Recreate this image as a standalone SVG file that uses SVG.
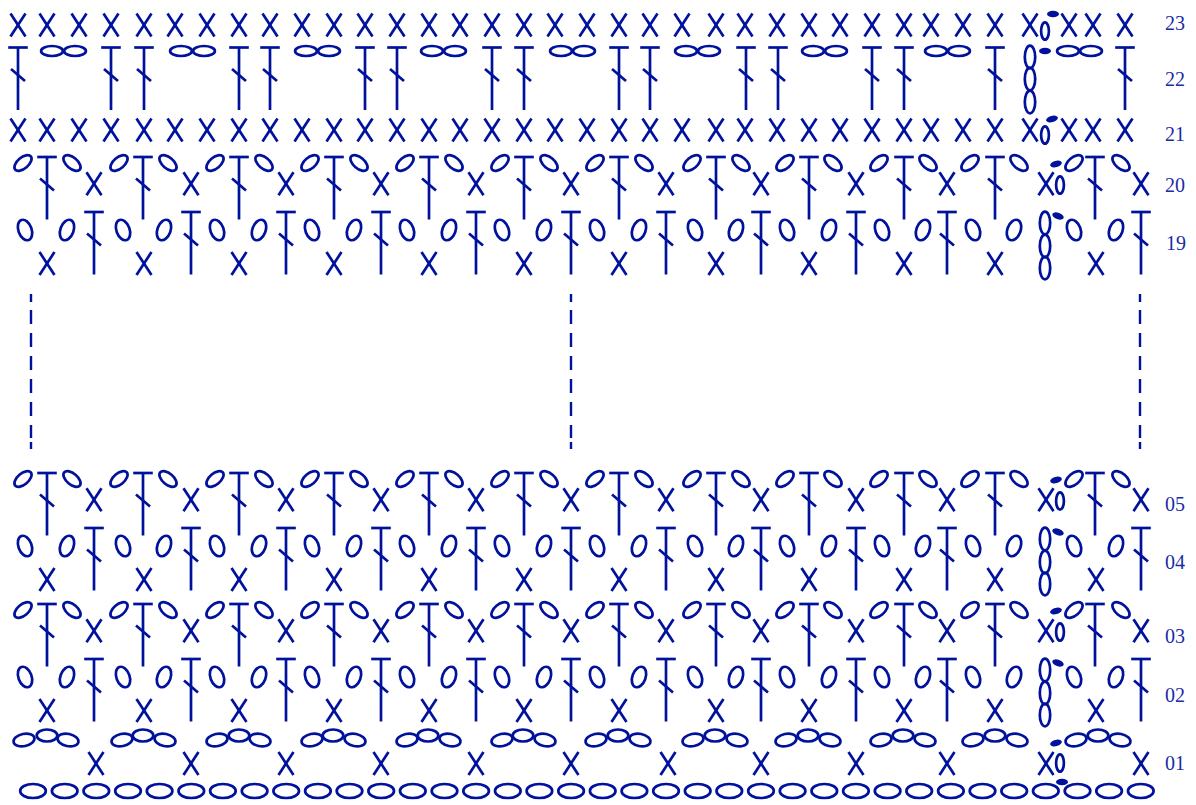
<svg xmlns="http://www.w3.org/2000/svg" width="1196" height="805" viewBox="0 0 1196 805">
<style>
.s line,.s ellipse{fill:none;stroke:#00129c;stroke-width:2.7}
.d{fill:#00129c;stroke:none}
.dash{fill:none;stroke:#00129c;stroke-width:2.4;stroke-dasharray:8 8 14 9 14 9 14 9 14 9 14 9 13 4 7 100}
text{font-family:"Liberation Serif","Times New Roman",serif;font-size:20px;fill:#1a2ba6}
</style>
<defs>
<g id="X" class="s"><line x1="-7.5" y1="-11.5" x2="7.5" y2="11.5"/><line x1="7.5" y1="-11.5" x2="-7.5" y2="11.5"/></g>
<g id="T" class="s"><line x1="-9.8" y1="0" x2="9.8" y2="0"/><line x1="0" y1="0" x2="0" y2="62.5"/><line x1="-7" y1="21.5" x2="7" y2="33.5"/></g>
<g id="O" class="s"><ellipse rx="3.9" ry="8.7"/></g>
<g id="H" class="s"><ellipse rx="10.9" ry="5"/></g>
<g id="V" class="s"><ellipse rx="5.2" ry="11.3"/></g>
<g id="LA" class="s"><ellipse rx="10.2" ry="5.5" transform="rotate(-40)"/></g>
<g id="LB" class="s"><ellipse rx="10.2" ry="5.5" transform="rotate(40)"/></g>
<g id="VA" class="s"><ellipse rx="6.6" ry="10.6" transform="rotate(20)"/></g>
<g id="VB" class="s"><ellipse rx="6.6" ry="10.6" transform="rotate(-20)"/></g>
<g id="CA" class="s"><ellipse rx="10.6" ry="6.1" transform="rotate(-12)"/></g>
<g id="CB" class="s"><ellipse rx="10.3" ry="6"/></g>
<g id="CC" class="s"><ellipse rx="10.6" ry="6.1" transform="rotate(12)"/></g>
<g id="F" class="s"><ellipse rx="12.8" ry="7"/></g>
<ellipse id="dot" class="d" rx="6" ry="3.2"/>
<g id="xrow">
<use href="#X" x="18"/><use href="#X" x="47"/><use href="#X" x="79"/><use href="#X" x="111"/><use href="#X" x="144"/><use href="#X" x="175"/><use href="#X" x="207"/><use href="#X" x="239"/><use href="#X" x="270"/><use href="#X" x="302"/><use href="#X" x="334"/><use href="#X" x="365"/><use href="#X" x="397"/><use href="#X" x="429"/><use href="#X" x="460"/><use href="#X" x="492"/><use href="#X" x="524"/><use href="#X" x="555"/><use href="#X" x="587"/><use href="#X" x="619"/><use href="#X" x="650"/><use href="#X" x="682"/><use href="#X" x="716"/><use href="#X" x="745"/><use href="#X" x="777"/><use href="#X" x="809"/><use href="#X" x="840"/><use href="#X" x="872"/><use href="#X" x="904"/><use href="#X" x="931"/><use href="#X" x="963"/><use href="#X" x="995"/><use href="#X" x="1030"/><use href="#X" x="1069"/><use href="#X" x="1093"/><use href="#X" x="1125"/>
</g>
<g id="rowA">
<use href="#T" x="47" y="157"/><use href="#T" x="143" y="157"/><use href="#T" x="239" y="157"/><use href="#T" x="334" y="157"/><use href="#T" x="429" y="157"/><use href="#T" x="524" y="157"/><use href="#T" x="619" y="157"/><use href="#T" x="716" y="157"/><use href="#T" x="809" y="157"/><use href="#T" x="904" y="157"/><use href="#T" x="995" y="157"/><use href="#T" x="1095" y="157"/>
<use href="#X" x="94" y="183.7"/><use href="#X" x="191" y="183.7"/><use href="#X" x="286" y="183.7"/><use href="#X" x="381" y="183.7"/><use href="#X" x="476" y="183.7"/><use href="#X" x="571" y="183.7"/><use href="#X" x="666" y="183.7"/><use href="#X" x="761" y="183.7"/><use href="#X" x="856" y="183.7"/><use href="#X" x="947" y="183.7"/><use href="#X" x="1046" y="183.7"/><use href="#X" x="1141" y="183.7"/>
<use href="#LA" x="23" y="163"/><use href="#LB" x="72" y="163"/><use href="#LA" x="119" y="163"/><use href="#LB" x="168" y="163"/><use href="#LA" x="215" y="163"/><use href="#LB" x="264" y="163"/><use href="#LA" x="310" y="163"/><use href="#LB" x="359" y="163"/><use href="#LA" x="405" y="163"/><use href="#LB" x="454" y="163"/><use href="#LA" x="500" y="163"/><use href="#LB" x="549" y="163"/><use href="#LA" x="595" y="163"/><use href="#LB" x="644" y="163"/><use href="#LA" x="692" y="163"/><use href="#LB" x="741" y="163"/><use href="#LA" x="785" y="163"/><use href="#LB" x="833" y="163"/><use href="#LA" x="879" y="163"/><use href="#LB" x="928" y="163"/><use href="#LA" x="970" y="163"/><use href="#LB" x="1019" y="163"/><use href="#LA" x="1074" y="163"/><use href="#LB" x="1121" y="163"/>
<ellipse class="d" rx="6" ry="3.2" transform="translate(1056 164) rotate(-15)"/>
<use href="#O" x="1060" y="185"/>
</g>
<g id="rowB">
<use href="#T" x="94" y="212"/><use href="#T" x="191" y="212"/><use href="#T" x="286" y="212"/><use href="#T" x="381" y="212"/><use href="#T" x="476" y="212"/><use href="#T" x="571" y="212"/><use href="#T" x="666" y="212"/><use href="#T" x="761" y="212"/><use href="#T" x="856" y="212"/><use href="#T" x="947" y="212"/><use href="#T" x="1141" y="212"/>
<use href="#X" x="47" y="263.5"/><use href="#X" x="144" y="263.5"/><use href="#X" x="239" y="263.5"/><use href="#X" x="334" y="263.5"/><use href="#X" x="429" y="263.5"/><use href="#X" x="524" y="263.5"/><use href="#X" x="619" y="263.5"/><use href="#X" x="716" y="263.5"/><use href="#X" x="809" y="263.5"/><use href="#X" x="904" y="263.5"/><use href="#X" x="995" y="263.5"/><use href="#X" x="1096" y="263.5"/>
<use href="#VB" x="25" y="230"/><use href="#VA" x="67" y="230"/><use href="#VB" x="123" y="230"/><use href="#VA" x="164" y="230"/><use href="#VB" x="217" y="230"/><use href="#VA" x="259" y="230"/><use href="#VB" x="312" y="230"/><use href="#VA" x="354" y="230"/><use href="#VB" x="407" y="230"/><use href="#VA" x="449" y="230"/><use href="#VB" x="502" y="230"/><use href="#VA" x="544" y="230"/><use href="#VB" x="597" y="230"/><use href="#VA" x="639" y="230"/><use href="#VB" x="695" y="230"/><use href="#VA" x="736" y="230"/><use href="#VB" x="787" y="230"/><use href="#VA" x="829" y="230"/><use href="#VB" x="882" y="230"/><use href="#VA" x="923" y="230"/><use href="#VB" x="973" y="230"/><use href="#VA" x="1014" y="230"/><use href="#VB" x="1074" y="230"/><use href="#VA" x="1116" y="230"/>
<use href="#V" x="1045" y="223"/><use href="#V" x="1045" y="246"/><use href="#V" x="1045" y="268"/>
<ellipse class="d" rx="6" ry="3.2" transform="translate(1058 216) rotate(20)"/>
</g>
</defs>

<g id="row-23">
<use href="#xrow" y="25"/>
<use href="#O" x="1045" y="31"/>
<use href="#dot" x="1053" y="14"/>
</g>
<g id="row-22">
<use href="#T" x="18" y="47.5"/><use href="#T" x="111" y="47.5"/><use href="#T" x="144" y="47.5"/><use href="#T" x="239" y="47.5"/><use href="#T" x="270" y="47.5"/><use href="#T" x="365" y="47.5"/><use href="#T" x="397" y="47.5"/><use href="#T" x="492" y="47.5"/><use href="#T" x="524" y="47.5"/><use href="#T" x="619" y="47.5"/><use href="#T" x="650" y="47.5"/><use href="#T" x="746" y="47.5"/><use href="#T" x="778" y="47.5"/><use href="#T" x="872" y="47.5"/><use href="#T" x="904" y="47.5"/><use href="#T" x="995" y="47.5"/><use href="#T" x="1125" y="47.5"/>
<use href="#H" x="52" y="51"/><use href="#H" x="75" y="51"/><use href="#H" x="181" y="51"/><use href="#H" x="204" y="51"/><use href="#H" x="306" y="51"/><use href="#H" x="329" y="51"/><use href="#H" x="432" y="51"/><use href="#H" x="455" y="51"/><use href="#H" x="561" y="51"/><use href="#H" x="584" y="51"/><use href="#H" x="686" y="51"/><use href="#H" x="709" y="51"/><use href="#H" x="813" y="51"/><use href="#H" x="836" y="51"/><use href="#H" x="936" y="51"/><use href="#H" x="959" y="51"/><use href="#H" x="1068" y="51"/><use href="#H" x="1091" y="51"/>
<use href="#V" x="1030" y="57"/><use href="#V" x="1030" y="79"/><use href="#V" x="1030" y="102"/>
<use href="#dot" x="1045" y="51"/>
</g>
<g id="row-21">
<use href="#xrow" y="130"/>
<use href="#O" x="1045" y="135"/>
<ellipse class="d" rx="6" ry="3.2" transform="translate(1052 119) rotate(-15)"/>
</g>
<g id="row-20"><use href="#rowA"/></g>
<g id="row-19"><use href="#rowB"/></g>

<g id="connectors">
<line class="dash" x1="31" y1="294" x2="31" y2="449"/>
<line class="dash" x1="571" y1="294" x2="571" y2="449"/>
<line class="dash" x1="1140" y1="294" x2="1140" y2="449"/>
</g>

<g id="row-05"><use href="#rowA" y="316"/></g>
<g id="row-04"><use href="#rowB" y="316"/></g>
<g id="row-03"><use href="#rowA" y="447"/></g>
<g id="row-02"><use href="#rowB" y="447"/></g>

<g id="row-01">
<use href="#X" x="96" y="763.5"/><use href="#X" x="191" y="763.5"/><use href="#X" x="286" y="763.5"/><use href="#X" x="381" y="763.5"/><use href="#X" x="476" y="763.5"/><use href="#X" x="571" y="763.5"/><use href="#X" x="668" y="763.5"/><use href="#X" x="761" y="763.5"/><use href="#X" x="856" y="763.5"/><use href="#X" x="947" y="763.5"/><use href="#X" x="1046" y="763.5"/><use href="#X" x="1141" y="763.5"/>
<use href="#CA" x="24" y="740"/><use href="#CB" x="47" y="735.5"/><use href="#CC" x="68" y="740"/>
<use href="#CA" x="122" y="740"/><use href="#CB" x="143" y="735.5"/><use href="#CC" x="165" y="740"/>
<use href="#CA" x="217" y="740"/><use href="#CB" x="239" y="735.5"/><use href="#CC" x="260" y="740"/>
<use href="#CA" x="312" y="740"/><use href="#CB" x="333" y="735.5"/><use href="#CC" x="355" y="740"/>
<use href="#CA" x="407" y="740"/><use href="#CB" x="428" y="735.5"/><use href="#CC" x="450" y="740"/>
<use href="#CA" x="502" y="740"/><use href="#CB" x="523" y="735.5"/><use href="#CC" x="545" y="740"/>
<use href="#CA" x="596" y="740"/><use href="#CB" x="618" y="735.5"/><use href="#CC" x="640" y="740"/>
<use href="#CA" x="693" y="740"/><use href="#CB" x="715" y="735.5"/><use href="#CC" x="737" y="740"/>
<use href="#CA" x="786" y="740"/><use href="#CB" x="808" y="735.5"/><use href="#CC" x="830" y="740"/>
<use href="#CA" x="881" y="740"/><use href="#CB" x="903" y="735.5"/><use href="#CC" x="925" y="740"/>
<use href="#CA" x="973" y="740"/><use href="#CB" x="995" y="735.5"/><use href="#CC" x="1017" y="740"/>
<use href="#CA" x="1076" y="740"/><use href="#CB" x="1098" y="735.5"/><use href="#CC" x="1120" y="740"/>
<ellipse class="d" rx="6" ry="3.2" transform="translate(1056 743) rotate(-15)"/>
<use href="#O" x="1060" y="763"/>
</g>
<g id="row-foundation">
<use href="#F" x="33" y="791"/><use href="#F" x="64.7" y="791"/><use href="#F" x="96.3" y="791"/><use href="#F" x="128" y="791"/><use href="#F" x="159.6" y="791"/><use href="#F" x="191.3" y="791"/><use href="#F" x="222.9" y="791"/><use href="#F" x="254.6" y="791"/><use href="#F" x="286.2" y="791"/><use href="#F" x="317.9" y="791"/><use href="#F" x="349.5" y="791"/><use href="#F" x="381.2" y="791"/><use href="#F" x="412.8" y="791"/><use href="#F" x="444.5" y="791"/><use href="#F" x="476.1" y="791"/><use href="#F" x="507.8" y="791"/><use href="#F" x="539.4" y="791"/><use href="#F" x="571.1" y="791"/><use href="#F" x="602.7" y="791"/><use href="#F" x="634.4" y="791"/><use href="#F" x="666" y="791"/><use href="#F" x="697.7" y="791"/><use href="#F" x="729.3" y="791"/><use href="#F" x="761" y="791"/><use href="#F" x="792.6" y="791"/><use href="#F" x="824.3" y="791"/><use href="#F" x="855.9" y="791"/><use href="#F" x="887.6" y="791"/><use href="#F" x="919.2" y="791"/><use href="#F" x="950.9" y="791"/><use href="#F" x="982.5" y="791"/><use href="#F" x="1014.2" y="791"/><use href="#F" x="1045.8" y="791"/><use href="#F" x="1077.5" y="791"/><use href="#F" x="1109.1" y="791"/><use href="#F" x="1140.8" y="791"/>
<use href="#dot" x="1062" y="782"/>
</g>

<g id="row-numbers">
<text x="1165" y="30">23</text>
<text x="1165" y="86">22</text>
<text x="1165" y="141">21</text>
<text x="1165" y="192">20</text>
<text x="1166" y="250">19</text>
<text x="1165" y="511">05</text>
<text x="1165" y="569">04</text>
<text x="1165" y="643">03</text>
<text x="1165" y="702">02</text>
<text x="1165" y="770">01</text>
</g>
</svg>
